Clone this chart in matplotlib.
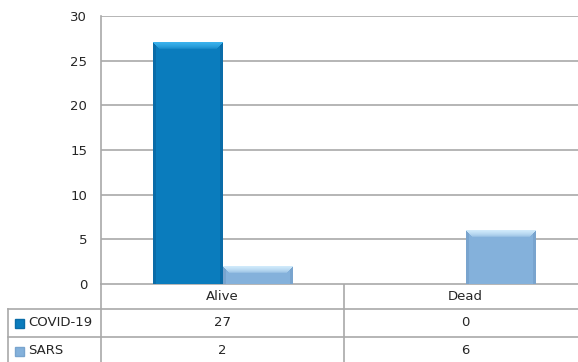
import numpy as np
import matplotlib
matplotlib.use("Agg")
import matplotlib.pyplot as plt
from matplotlib.colors import to_rgb
from matplotlib.patches import Rectangle

# Data
categories = ["Alive", "Dead"]
series_names = ["COVID-19", "SARS"]
covid = [27, 0]
sars = [2, 6]
y_ticks = [0, 5, 10, 15, 20, 25, 30]

# Bar styling: body colour, top highlight, side shade
styles = {
    "COVID-19": dict(base="#0a7cbd", top="#3cb4ee", side="#0a6ca8"),
    "SARS": dict(base="#84b1db", top="#d2ecfc", side="#79a4ce"),
}

W, H = 578, 362
plt.rcParams["font.family"] = ["DejaVu Sans"]
TEXT = "#262626"
GRID = "#a9a9a9"
FS = 9.5

fig = plt.figure(figsize=(W / 100, H / 100), dpi=100)
ax = fig.add_axes([101 / W, 1 - 284 / H, 486 / W, 268 / H])

x = np.arange(len(categories))
bw = 0.288
ax.set_xlim(-0.5, len(categories) - 0.5)
ax.set_ylim(0, 30)
ax.set_yticks(y_ticks)
ax.set_yticklabels([str(t) for t in y_ticks], fontsize=FS, color=TEXT)
ax.tick_params(axis="y", length=0, pad=10)
ax.set_xticks([])
ax.yaxis.grid(True, color=GRID, lw=1.2)
ax.set_axisbelow(True)
for s in ("top", "right", "bottom"):
    ax.spines[s].set_visible(False)
ax.spines["left"].set_color(GRID)
ax.spines["left"].set_linewidth(1.2)

fig.canvas.draw()


def bevel(rect, st, b=7.0, bs=3.0):
    """Paint a bar with a soft top bevel and faint darker sides."""
    x0, y0 = rect.get_x(), rect.get_y()
    w, h = rect.get_width(), rect.get_height()
    if h <= 0:
        return
    (px0, py0), (px1, py1) = ax.transData.transform([(x0, y0), (x0 + w, y0 + h)])
    nx, ny = max(int(round(px1 - px0)), 2), max(int(round(py1 - py0)), 2)
    jj, ii = np.meshgrid(np.arange(nx) + 0.5, np.arange(ny) + 0.5)
    base = np.array(to_rgb(st["base"]))
    topc = np.array(to_rgb(st["top"]))
    side = np.array(to_rgb(st["side"]))
    img = np.ones((ny, nx, 3)) * base
    dside = np.minimum(jj, nx - jj)
    # faint side shading
    ms = dside < bs
    img[ms] = side
    # mitred top band with a gradient that fades into the body
    mt = (ii < b) & (ii <= dside + 0.5)
    t = np.sqrt(np.clip(1 - ii / b, 0, 1))[..., None]
    img = np.where(mt[..., None], topc * t + base * (1 - t), img)
    ax.imshow(img, extent=(x0, x0 + w, y0, y0 + h), origin="upper",
              aspect="auto", interpolation="nearest", zorder=3)


for vals, name, off in ((covid, "COVID-19", -bw / 2), (sars, "SARS", bw / 2)):
    bars = ax.bar(x + off, vals, bw, color=styles[name]["base"], zorder=2, lw=0)
    for r in bars:
        bevel(r, styles[name])
ax.set_xlim(-0.5, len(categories) - 0.5)
ax.set_ylim(0, 30)

# Data table below the plot, in figure pixel coordinates
tab = fig.add_axes([0, 0, 1, 1], zorder=-1)
tab.set_xlim(0, W)
tab.set_ylim(H, 0)
tab.axis("off")


def xpx(v):
    return ax.transData.transform((v, 0))[0]


top = H - ax.transData.transform((0, 0))[1]
row_h = [25, 28, 28]
row_y = np.cumsum([top] + row_h)
left_edge = 8
label_edge = xpx(-0.5)
lk = dict(color=GRID, lw=1.2)

tab.plot([label_edge, W], [row_y[0]] * 2, **lk)
for yy in row_y[1:3]:
    tab.plot([left_edge, W], [yy, yy], **lk)
tab.plot([left_edge, left_edge], [row_y[1], H], **lk)
for v in np.arange(len(categories) + 1) - 0.5:
    tab.plot([xpx(v)] * 2, [row_y[0], H], **lk)

for i, c in enumerate(categories):
    tab.text(xpx(i), (row_y[0] + row_y[1]) / 2, c, ha="center", va="center",
             fontsize=FS, color=TEXT)

for r, (name, vals) in enumerate(zip(series_names, (covid, sars))):
    yc = (row_y[r + 1] + row_y[r + 2]) / 2
    st = styles[name]
    tab.add_patch(Rectangle((15, yc - 4.5), 9, 9, facecolor=st["base"],
                            edgecolor=st["side"], lw=1))
    tab.text(28, yc, name, ha="left", va="center", fontsize=FS, color=TEXT)
    for i, v in enumerate(vals):
        tab.text(xpx(i), yc, str(v), ha="center", va="center",
                 fontsize=FS, color=TEXT)

fig.savefig("out.png", dpi=100)
